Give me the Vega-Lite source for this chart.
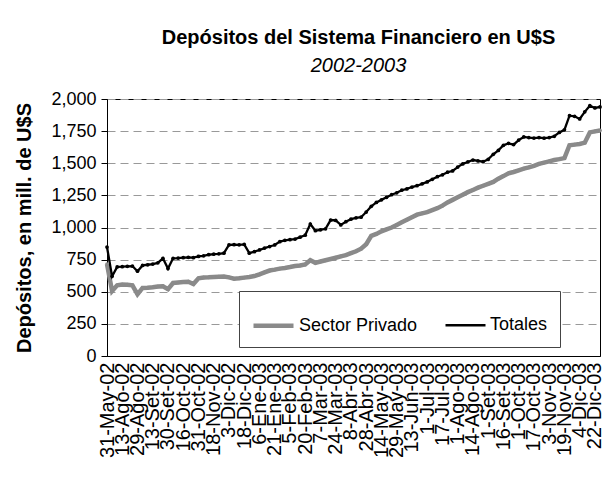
{
  "$schema": "https://vega.github.io/schema/vega-lite/v6.json",
  "autosize": "none",
  "width": 493,
  "height": 257,
  "padding": {"left": 107, "top": 99, "right": 15, "bottom": 127},
  "background": "white",
  "title": {
    "text": "Depósitos del Sistema Financiero en U$S",
    "subtitle": "2002-2003",
    "anchor": "middle",
    "frame": "group",
    "font": "Liberation Sans",
    "fontSize": 20,
    "fontWeight": "bold",
    "color": "black",
    "subtitleFont": "Liberation Sans",
    "subtitleFontSize": 20,
    "subtitleFontStyle": "italic",
    "subtitleColor": "black",
    "subtitlePadding": 8,
    "offset": 14,
    "dx": 5
  },
  "data": {
    "values": [
      {"fecha": "31-May-02", "Sector Privado": 715, "Totales": 848},
      {"fecha": "28-Jun-02", "Sector Privado": 505, "Totales": 620},
      {"fecha": "31-Jul-02", "Sector Privado": 550, "Totales": 693},
      {"fecha": "13-Ago-02", "Sector Privado": 556, "Totales": 695},
      {"fecha": "19-Ago-02", "Sector Privado": 555, "Totales": 698},
      {"fecha": "23-Ago-02", "Sector Privado": 550, "Totales": 700},
      {"fecha": "29-Ago-02", "Sector Privado": 480, "Totales": 660},
      {"fecha": "4-Set-02", "Sector Privado": 530, "Totales": 705},
      {"fecha": "9-Set-02", "Sector Privado": 532, "Totales": 710},
      {"fecha": "13-Set-02", "Sector Privado": 535, "Totales": 715},
      {"fecha": "19-Set-02", "Sector Privado": 540, "Totales": 725},
      {"fecha": "25-Set-02", "Sector Privado": 543, "Totales": 760},
      {"fecha": "30-Set-02", "Sector Privado": 520, "Totales": 680},
      {"fecha": "4-Oct-02", "Sector Privado": 568, "Totales": 760},
      {"fecha": "10-Oct-02", "Sector Privado": 572, "Totales": 762},
      {"fecha": "16-Oct-02", "Sector Privado": 575, "Totales": 765},
      {"fecha": "21-Oct-02", "Sector Privado": 578, "Totales": 768},
      {"fecha": "25-Oct-02", "Sector Privado": 560, "Totales": 765},
      {"fecha": "31-Oct-02", "Sector Privado": 605, "Totales": 775},
      {"fecha": "6-Nov-02", "Sector Privado": 610, "Totales": 780},
      {"fecha": "12-Nov-02", "Sector Privado": 612, "Totales": 788},
      {"fecha": "18-Nov-02", "Sector Privado": 615, "Totales": 792},
      {"fecha": "22-Nov-02", "Sector Privado": 617, "Totales": 795},
      {"fecha": "28-Nov-02", "Sector Privado": 618, "Totales": 800},
      {"fecha": "3-Dic-02", "Sector Privado": 612, "Totales": 864},
      {"fecha": "9-Dic-02", "Sector Privado": 602, "Totales": 866},
      {"fecha": "13-Dic-02", "Sector Privado": 605, "Totales": 865},
      {"fecha": "18-Dic-02", "Sector Privado": 610, "Totales": 868},
      {"fecha": "24-Dic-02", "Sector Privado": 615, "Totales": 800},
      {"fecha": "31-Dic-02", "Sector Privado": 622, "Totales": 812},
      {"fecha": "6-Ene-03", "Sector Privado": 635, "Totales": 825},
      {"fecha": "10-Ene-03", "Sector Privado": 650, "Totales": 840},
      {"fecha": "16-Ene-03", "Sector Privado": 665, "Totales": 852},
      {"fecha": "21-Ene-03", "Sector Privado": 672, "Totales": 864},
      {"fecha": "27-Ene-03", "Sector Privado": 680, "Totales": 890},
      {"fecha": "31-Ene-03", "Sector Privado": 685, "Totales": 900},
      {"fecha": "5-Feb-03", "Sector Privado": 692, "Totales": 905},
      {"fecha": "10-Feb-03", "Sector Privado": 700, "Totales": 910},
      {"fecha": "14-Feb-03", "Sector Privado": 705, "Totales": 925},
      {"fecha": "20-Feb-03", "Sector Privado": 712, "Totales": 940},
      {"fecha": "26-Feb-03", "Sector Privado": 745, "Totales": 1027},
      {"fecha": "3-Mar-03", "Sector Privado": 725, "Totales": 975},
      {"fecha": "7-Mar-03", "Sector Privado": 735, "Totales": 982},
      {"fecha": "13-Mar-03", "Sector Privado": 745, "Totales": 990},
      {"fecha": "19-Mar-03", "Sector Privado": 755, "Totales": 1058},
      {"fecha": "24-Mar-03", "Sector Privado": 765, "Totales": 1055},
      {"fecha": "28-Mar-03", "Sector Privado": 775, "Totales": 1020},
      {"fecha": "3-Abr-03", "Sector Privado": 785, "Totales": 1045},
      {"fecha": "8-Abr-03", "Sector Privado": 800, "Totales": 1065},
      {"fecha": "14-Abr-03", "Sector Privado": 815, "Totales": 1075},
      {"fecha": "22-Abr-03", "Sector Privado": 835, "Totales": 1080},
      {"fecha": "28-Abr-03", "Sector Privado": 870, "Totales": 1120},
      {"fecha": "5-May-03", "Sector Privado": 935, "Totales": 1165},
      {"fecha": "9-May-03", "Sector Privado": 950, "Totales": 1195},
      {"fecha": "14-May-03", "Sector Privado": 970, "Totales": 1215},
      {"fecha": "19-May-03", "Sector Privado": 985, "Totales": 1235},
      {"fecha": "23-May-03", "Sector Privado": 1000, "Totales": 1255},
      {"fecha": "29-May-03", "Sector Privado": 1020, "Totales": 1270},
      {"fecha": "4-Jun-03", "Sector Privado": 1040, "Totales": 1290},
      {"fecha": "9-Jun-03", "Sector Privado": 1060, "Totales": 1300},
      {"fecha": "13-Jun-03", "Sector Privado": 1080, "Totales": 1315},
      {"fecha": "20-Jun-03", "Sector Privado": 1100, "Totales": 1325},
      {"fecha": "26-Jun-03", "Sector Privado": 1110, "Totales": 1340},
      {"fecha": "1-Jul-03", "Sector Privado": 1120, "Totales": 1355},
      {"fecha": "7-Jul-03", "Sector Privado": 1135, "Totales": 1375},
      {"fecha": "11-Jul-03", "Sector Privado": 1150, "Totales": 1395},
      {"fecha": "17-Jul-03", "Sector Privado": 1170, "Totales": 1410},
      {"fecha": "23-Jul-03", "Sector Privado": 1195, "Totales": 1430},
      {"fecha": "28-Jul-03", "Sector Privado": 1215, "Totales": 1440},
      {"fecha": "1-Ago-03", "Sector Privado": 1235, "Totales": 1470},
      {"fecha": "6-Ago-03", "Sector Privado": 1255, "Totales": 1495},
      {"fecha": "11-Ago-03", "Sector Privado": 1275, "Totales": 1510},
      {"fecha": "14-Ago-03", "Sector Privado": 1292, "Totales": 1525},
      {"fecha": "20-Ago-03", "Sector Privado": 1310, "Totales": 1518},
      {"fecha": "26-Ago-03", "Sector Privado": 1325, "Totales": 1512},
      {"fecha": "1-Set-03", "Sector Privado": 1340, "Totales": 1530},
      {"fecha": "5-Set-03", "Sector Privado": 1355, "Totales": 1570},
      {"fecha": "11-Set-03", "Sector Privado": 1380, "Totales": 1600},
      {"fecha": "16-Set-03", "Sector Privado": 1400, "Totales": 1640},
      {"fecha": "22-Set-03", "Sector Privado": 1422, "Totales": 1655},
      {"fecha": "26-Set-03", "Sector Privado": 1432, "Totales": 1645},
      {"fecha": "1-Oct-03", "Sector Privado": 1445, "Totales": 1680},
      {"fecha": "7-Oct-03", "Sector Privado": 1458, "Totales": 1705},
      {"fecha": "13-Oct-03", "Sector Privado": 1468, "Totales": 1700},
      {"fecha": "17-Oct-03", "Sector Privado": 1480, "Totales": 1696},
      {"fecha": "23-Oct-03", "Sector Privado": 1495, "Totales": 1700},
      {"fecha": "29-Oct-03", "Sector Privado": 1505, "Totales": 1695},
      {"fecha": "3-Nov-03", "Sector Privado": 1515, "Totales": 1700},
      {"fecha": "7-Nov-03", "Sector Privado": 1525, "Totales": 1710},
      {"fecha": "13-Nov-03", "Sector Privado": 1532, "Totales": 1740},
      {"fecha": "19-Nov-03", "Sector Privado": 1540, "Totales": 1760},
      {"fecha": "25-Nov-03", "Sector Privado": 1640, "Totales": 1870},
      {"fecha": "28-Nov-03", "Sector Privado": 1645, "Totales": 1865},
      {"fecha": "4-Dic-03", "Sector Privado": 1650, "Totales": 1845},
      {"fecha": "10-Dic-03", "Sector Privado": 1660, "Totales": 1900},
      {"fecha": "16-Dic-03", "Sector Privado": 1740, "Totales": 1948},
      {"fecha": "22-Dic-03", "Sector Privado": 1748, "Totales": 1930},
      {"fecha": "30-Dic-03", "Sector Privado": 1755, "Totales": 1938}
    ]
  },
  "transform": [{"fold": ["Sector Privado", "Totales"], "as": ["serie", "valor"]}],
  "mark": {"type": "line", "point": {"filled": true, "size": 14}},
  "encoding": {
    "x": {
      "field": "fecha",
      "type": "ordinal",
      "sort": null,
      "scale": {"type": "point", "padding": 0},
      "axis": {
        "title": null,
        "values": ["31-May-02", "13-Ago-02", "29-Ago-02", "13-Set-02", "30-Set-02", "16-Oct-02", "31-Oct-02", "18-Nov-02", "3-Dic-02", "18-Dic-02", "6-Ene-03", "21-Ene-03", "5-Feb-03", "20-Feb-03", "7-Mar-03", "24-Mar-03", "8-Abr-03", "28-Abr-03", "14-May-03", "29-May-03", "13-Jun-03", "1-Jul-03", "17-Jul-03", "1-Ago-03", "14-Ago-03", "1-Set-03", "16-Set-03", "1-Oct-03", "17-Oct-03", "3-Nov-03", "19-Nov-03", "4-Dic-03", "22-Dic-03"],
        "labelAngle": -90,
        "labelOverlap": false,
        "labelBound": false,
        "labelFlush": false,
        "labelFont": "Liberation Sans",
        "labelFontSize": 20,
        "labelColor": "black",
        "labelPadding": 6,
        "ticks": false,
        "domainColor": "black",
        "grid": false
      }
    },
    "y": {
      "field": "valor",
      "type": "quantitative",
      "scale": {"domain": [0, 2000], "nice": false, "zero": true},
      "axis": {
        "title": "Depósitos, en mill. de U$S",
        "values": [0, 250, 500, 750, 1000, 1250, 1500, 1750, 2000],
        "format": ",d",
        "titleFont": "Liberation Sans",
        "titleFontSize": 20,
        "titleFontWeight": "bold",
        "titleColor": "black",
        "titlePadding": 16,
        "labelFont": "Liberation Sans",
        "labelFontSize": 18,
        "labelColor": "black",
        "labelPadding": 5,
        "tickColor": "black",
        "tickSize": 6,
        "domainColor": "black",
        "grid": true,
        "gridColor": "#999999",
        "gridDash": [8, 5]
      }
    },
    "color": {
      "field": "serie",
      "type": "nominal",
      "scale": {"domain": ["Sector Privado", "Totales"], "range": ["#8a8a8a", "#000000"]},
      "legend": {
        "title": null,
        "orient": "none",
        "legendX": 132,
        "legendY": 192,
        "direction": "horizontal",
        "fillColor": "white",
        "strokeColor": "#444444",
        "padding": 12,
        "symbolType": "stroke",
        "symbolSize": 1600,
        "labelFont": "Liberation Sans",
        "labelFontSize": 18,
        "labelColor": "black",
        "columnPadding": 22,
        "labelOffset": 3
      }
    },
    "strokeWidth": {
      "field": "serie",
      "type": "nominal",
      "scale": {"domain": ["Sector Privado", "Totales"], "range": [4.5, 2.3]},
      "legend": {
        "title": null,
        "orient": "none",
        "legendX": 132,
        "legendY": 192,
        "direction": "horizontal",
        "fillColor": "white",
        "strokeColor": "#444444",
        "padding": 12,
        "symbolType": "stroke",
        "symbolSize": 1600,
        "labelFont": "Liberation Sans",
        "labelFontSize": 18,
        "labelColor": "black",
        "columnPadding": 22,
        "labelOffset": 3
      }
    }
  },
  "config": {
    "font": "Liberation Sans",
    "view": {"stroke": "black", "strokeWidth": 1}
  }
}
